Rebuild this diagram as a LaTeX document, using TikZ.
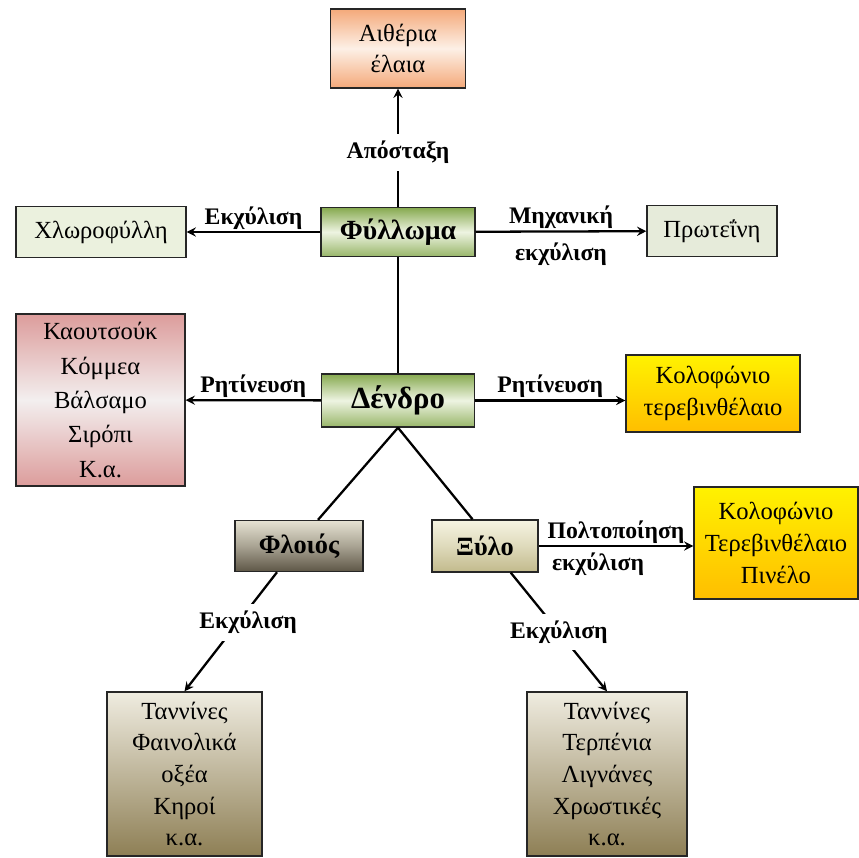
\documentclass[tikz,border=0pt]{standalone}
\usepackage{fontspec}
\setmainfont{Liberation Serif}
\usepackage{tikz}
\usetikzlibrary{positioning,shapes,arrows}

\definecolor{aetherc}{HTML}{F4A97A}
\definecolor{aetherlt}{HTML}{FDF0E6}
\definecolor{leafdark}{HTML}{86A94F}
\definecolor{leaflight}{HTML}{EEF4E2}
\definecolor{paleleaf}{HTML}{EBF1DE}
\definecolor{protc}{HTML}{E6EBDA}
\definecolor{rubberc}{HTML}{DC9C9B}
\definecolor{rubberlt}{HTML}{F3EFEF}
\definecolor{resintop}{HTML}{FFF200}
\definecolor{resinbot}{HTML}{FFBE00}
\definecolor{barktop}{HTML}{E6E2D2}
\definecolor{barkbot}{HTML}{5E5746}
\definecolor{woodtop}{HTML}{F6F4E2}
\definecolor{woodbot}{HTML}{C2BA8C}
\definecolor{tantop}{HTML}{EFECE0}
\definecolor{tanbot}{HTML}{8E7F55}

\begin{document}
\begin{tikzpicture}[x=0.02cm, y=-0.02cm, >=stealth,
    box/.style={draw=black!85, line width=0.8pt, align=center, inner sep=2pt,
                font=\fontsize{14}{18}\selectfont},
    mainbox/.style={box, top color=leafdark, bottom color=leafdark!85, middle color=leaflight,
                font=\fontsize{15}{18}\selectfont\bfseries},
    lbl/.style={font=\fontsize{13.5}{16}\selectfont\bfseries, inner sep=1pt},
    gaplbl/.style={lbl, fill=white, inner xsep=1pt, inner ysep=4pt},
    link/.style={line width=1.3pt}]

    \fill[white] (0,0) rectangle (859,858);
    \useasboundingbox (0,0) rectangle (859,858);

    % leaves
    \node[box, minimum width=2.7cm, minimum height=1.58cm,
          top color=aetherc, bottom color=aetherc, middle color=aetherlt] (aether) at (398,48.5) {Αιθέρια\\έλαια};
    \node[mainbox, font=\fontsize{15.8}{18}\selectfont\bfseries,
          minimum width=3.08cm, minimum height=0.98cm] (fyllwma) at (398,232) {Φύλλωμα};
    \node[box, fill=paleleaf, minimum width=3.4cm, minimum height=1.02cm] (chloro) at (101,232) {Χλωροφύλλη};
    \node[box, fill=protc, minimum width=2.6cm, minimum height=1.02cm] (proteini) at (712,231) {Πρωτεΐνη};

    % tree
    \node[mainbox, font=\fontsize{17.5}{20}\selectfont\bfseries,
          minimum width=3.06cm, minimum height=1.06cm] (dendro) at (398,400.5) {Δένδρο};
    \node[box, font=\fontsize{14}{19.6}\selectfont, minimum width=3.38cm, minimum height=3.44cm,
          top color=rubberc, bottom color=rubberc, middle color=rubberlt] (kaout) at (100.5,400)
          {Καουτσούκ\\Κόμμεα\\Βάλσαμο\\Σιρόπι\\Κ.α.};
    \node[box, top color=resintop, bottom color=resinbot, minimum width=3.48cm, minimum height=1.54cm]
          (kolof1) at (713,393.5) {Κολοφώνιο\\τερεβινθέλαιο};

    % bark and wood
    \node[mainbox, top color=barktop, bottom color=barkbot, middle color=barktop!55!barkbot,
          minimum width=2.56cm, minimum height=1.02cm] (floios) at (299,546) {Φλοιός};
    \node[mainbox, top color=woodtop, bottom color=woodbot, middle color=woodtop!55!woodbot,
          minimum width=2.12cm, minimum height=1.04cm] (xylo) at (485,546) {Ξύλο};
    \node[box, top color=resintop, bottom color=resinbot, minimum width=3.28cm, minimum height=2.24cm]
          (kolof2) at (776,543) {Κολοφώνιο\\Τερεβινθέλαιο\\Πινέλο};
    \node[box, top color=tantop, bottom color=tanbot, minimum width=3.1cm, minimum height=3.28cm]
          (tann1) at (184.5,774) {Ταννίνες\\Φαινολικά\\οξέα\\Κηροί\\κ.α.};
    \node[box, top color=tantop, bottom color=tanbot, minimum width=3.2cm, minimum height=3.28cm]
          (tann2) at (607,774) {Ταννίνες\\Τερπένια\\Λιγνάνες\\Χρωστικές\\κ.α.};

    % connectors
    \draw[link,->] (fyllwma) -- node[gaplbl, pos=0.46] (apostaxi) {Απόσταξη} (aether);
    \draw[link,->] (fyllwma) -- node[lbl, above] (ekxChl) {Εκχύλιση} (chloro);
    \draw[link,->] (fyllwma) -- node[lbl, above] (mixan) {Μηχανική}
                                node[lbl, below=5pt] (ekxPro) {εκχύλιση} (proteini);
    \draw[link] (fyllwma) -- (dendro);
    \draw[link,->] (dendro) -- node[lbl, above] (ritL) {Ρητίνευση} (kaout);
    \draw[link,->] (dendro.east) -- node[lbl, above] (ritR) {Ρητίνευση} (dendro.east -| kolof1.west);
    \draw[link] (dendro.south) -- (floios.54);
    \draw[link] (dendro.south) -- (xylo.115);
    \draw[link,->] (xylo.east) -- node[lbl, above] (polto) {Πολτοποίηση}
                                  node[lbl, below=2pt, xshift=-0.36cm] (ekxXyl) {εκχύλιση} (xylo.east -| kolof2.west);
    \draw[link,->] (floios.230) -- node[gaplbl, pos=0.42, xshift=0.2cm] (ekxFl) {Εκχύλιση} (tann1.north);
    \draw[link,->] (xylo.314) -- node[gaplbl, pos=0.5] (ekxXy) {Εκχύλιση} (tann2.north);
\end{tikzpicture}
\end{document}
